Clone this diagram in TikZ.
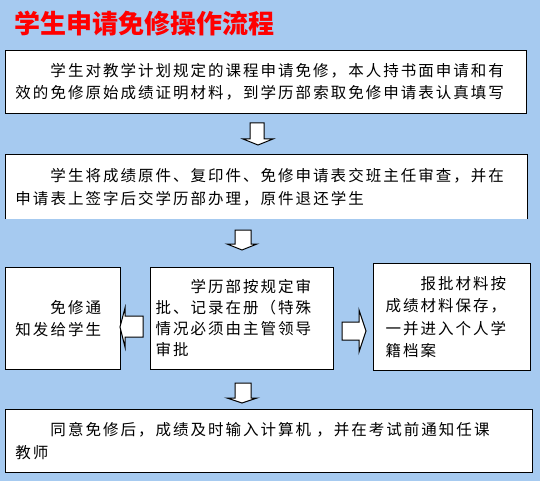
\documentclass[tikz,border=0pt]{standalone}
\usepackage{fontspec}
\newfontfamily\bodyfontfam[LetterSpace=13]{Noto Sans CJK SC}
\newfontfamily\titlefontfam{Noto Sans CJK SC}
\newcommand\bodyfont{\bodyfontfam\fontsize{15.5pt}{22.5pt}\selectfont}
\newcommand\midfont{\bodyfontfam\fontsize{15.5pt}{21pt}\selectfont}
\newcommand\titlefont{\titlefontfam\bfseries\fontsize{26pt}{30pt}\selectfont}
\definecolor{bgblue}{RGB}{166,202,240}
\definecolor{titlered}{RGB}{255,0,0}
\begin{document}
\begin{tikzpicture}[x=1pt,y=-1pt,
  box/.style={draw=black, line width=1pt, fill=white, anchor=north west,
    align=left, inner ysep=0pt, font=\bodyfont},
  blockarrow/.style={draw=black, line width=1pt, fill=white, line join=miter}]
\fill[bgblue] (0,0) rectangle (540,481);
\useasboundingbox (0,0) rectangle (540,481);

\node[anchor=west, text=titlered, font=\titlefont, inner sep=0pt] (title) at (14,24) {学生申请免修操作流程};

\node[box, minimum width=521pt, minimum height=63pt, text width=501pt, inner xsep=10pt] (b1) at (5,50)
  {\hspace*{35pt}学生对教学计划规定的课程申请免修，本人持书面申请和有\\效的免修原始成绩证明材料，到学历部索取免修申请表认真填写};

\node[box, draw=none, minimum width=521pt, minimum height=63pt, text width=501pt, inner xsep=10pt] (b2) at (5,155)
  {\hspace*{35pt}学生将成绩原件、复印件、免修申请表交班主任审查，并在\\申请表上签字后交学历部办理，原件退还学生};
\draw[line width=1pt] (b2.south west) -- (b2.north west) -- (b2.north east) -- (b2.south east);

\node[box, minimum width=115pt, minimum height=102pt, text width=95pt, inner xsep=10pt] (l) at (5,267)
  {\hspace*{35pt}免修通\\知发给学生};

\node[box, font=\midfont, minimum width=183pt, minimum height=102pt, text width=173pt, inner xsep=5pt] (m) at (150,267)
  {\hspace*{35pt}学历部按规定审\\批、记录在册（特殊\\情况必须由主管领导\\审批};

\node[box, minimum width=157pt, minimum height=107pt, text width=133pt, inner xsep=12pt] (r) at (373,263)
  {\hspace*{35pt}报批材料按\\成绩材料保存，\\一并进入个人学\\籍档案};

\node[box, minimum width=527pt, minimum height=63pt, text width=507pt, inner xsep=10pt] (b4) at (5,409)
  {\hspace*{35pt}同意免修后，成绩及时输入计算机 ，并在考试前通知任课\\教师};

% block arrows
\draw[blockarrow] (250,123) -- (250,139) -- (243,139) -- (258,145) -- (273,139) -- (264,139) -- (264,123) -- cycle;
\draw[blockarrow] (235,230) -- (235,244) -- (227,244) -- (242,250) -- (257,244) -- (251,244) -- (251,230) -- cycle;
\draw[blockarrow] (143,316) -- (125,316) -- (125,308) -- (120,327) -- (125,347) -- (125,337) -- (143,337) -- cycle;
\draw[blockarrow] (342,322) -- (359,322) -- (359,310) -- (366,331) -- (359,352) -- (359,340) -- (342,340) -- cycle;
\draw[blockarrow] (235,383) -- (235,398) -- (227,398) -- (242,403) -- (257,398) -- (251,398) -- (251,383) -- cycle;
\end{tikzpicture}
\end{document}
